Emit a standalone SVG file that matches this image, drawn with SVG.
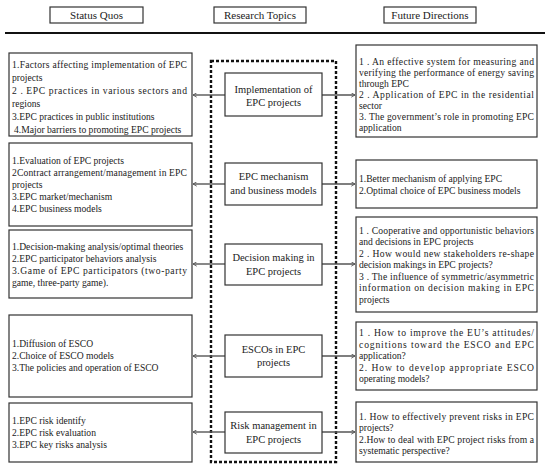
<svg xmlns="http://www.w3.org/2000/svg" width="550" height="473" viewBox="0 0 550 473">
<style>
.box{fill:#fff;stroke:#333;stroke-width:1.2}
.hd{font-family:"Liberation Serif","Times New Roman",serif;font-size:11px;fill:#222;text-anchor:middle}
.t{font-family:"Liberation Serif","Times New Roman",serif;font-size:9.6px;fill:#222}
.c{font-family:"Liberation Serif","Times New Roman",serif;font-size:10.5px;fill:#222;text-anchor:middle}
.con{stroke:#555;stroke-width:1.4;fill:none}
</style>
<defs>
<marker id="ah" viewBox="0 0 8 8" refX="7" refY="4" markerWidth="5" markerHeight="5" orient="auto-start-reverse" markerUnits="userSpaceOnUse">
<path d="M1,0.5 L7,4 L1,7.5" fill="none" stroke="#555" stroke-width="1.4"/>
</marker>
</defs>
<rect width="550" height="473" fill="#fff"/>
<g id="headers">
<rect class="box" x="50" y="7" width="93" height="16"/>
<text class="hd" x="96.5" y="19">Status Quos</text>
<rect class="box" x="214" y="7" width="92" height="16"/>
<text class="hd" x="260" y="19">Research Topics</text>
<rect class="box" x="384" y="7" width="92" height="16"/>
<text class="hd" x="430" y="19">Future Directions</text>
<line x1="5" y1="33" x2="545" y2="33" stroke="#111" stroke-width="1.8"/>
</g>
<rect id="topics-frame" x="211" y="61" width="125" height="401" fill="none" stroke="#111" stroke-width="2.4" stroke-dasharray="3,2"/>
<g id="connectors">
<line class="con" x1="225" y1="95" x2="193" y2="95" marker-end="url(#ah)"/>
<line class="con" x1="322" y1="95" x2="355" y2="95" marker-end="url(#ah)"/>
<line class="con" x1="225" y1="184" x2="193" y2="184" marker-end="url(#ah)"/>
<line class="con" x1="322" y1="184" x2="355" y2="184" marker-end="url(#ah)"/>
<line class="con" x1="225" y1="264" x2="193" y2="264" marker-end="url(#ah)"/>
<line class="con" x1="322" y1="264" x2="355" y2="264" marker-end="url(#ah)"/>
<line class="con" x1="225" y1="356" x2="193" y2="356" marker-end="url(#ah)"/>
<line class="con" x1="322" y1="356" x2="355" y2="356" marker-end="url(#ah)"/>
<line class="con" x1="225" y1="432" x2="193" y2="432" marker-end="url(#ah)"/>
<line class="con" x1="322" y1="432" x2="355" y2="432" marker-end="url(#ah)"/>
</g>
<g id="topic1"><rect class="box" x="225" y="73" width="97" height="43"/>
<text class="c" x="273.5" y="92.5">Implementation of</text><text class="c" x="273.5" y="105.5">EPC projects</text></g>
<g id="topic2"><rect class="box" x="225" y="163" width="97" height="42"/>
<text class="c" x="273.5" y="180">EPC mechanism</text><text class="c" x="273.5" y="194">and business models</text></g>
<g id="topic3"><rect class="box" x="225" y="244" width="97" height="41"/>
<text class="c" x="273.5" y="261">Decision making in</text><text class="c" x="273.5" y="275">EPC projects</text></g>
<g id="topic4"><rect class="box" x="225" y="335" width="97" height="42"/>
<text class="c" x="273.5" y="353">ESCOs in EPC</text><text class="c" x="273.5" y="366">projects</text></g>
<g id="topic5"><rect class="box" x="225" y="412" width="97" height="41"/>
<text class="c" x="273.5" y="429">Risk management in</text><text class="c" x="273.5" y="443">EPC projects</text></g>

<g id="status1"><rect class="box" x="9" y="53" width="183" height="83"/>
<text class="t" x="12" y="68" textLength="175" lengthAdjust="spacing">1.Factors affecting implementation of EPC</text>
<text class="t" x="12" y="81">projects</text>
<text class="t" x="12" y="94" textLength="175" lengthAdjust="spacing">2 . EPC practices in various sectors and</text>
<text class="t" x="12" y="107">regions</text>
<text class="t" x="12" y="120">3.EPC practices in public institutions</text>
<text class="t" x="14" y="133">4.Major barriers to promoting EPC projects</text></g>
<g id="status2"><rect class="box" x="9" y="143" width="183" height="83"/>
<text class="t" x="12" y="164">1.Evaluation of EPC projects</text>
<text class="t" x="12" y="176" textLength="175" lengthAdjust="spacing">2Contract arrangement/management in EPC</text>
<text class="t" x="12" y="188">projects</text>
<text class="t" x="12" y="200">3.EPC market/mechanism</text>
<text class="t" x="12" y="212">4.EPC business models</text></g>
<g id="status3"><rect class="box" x="9" y="230" width="183" height="68"/>
<text class="t" x="12" y="250">1.Decision-making analysis/optimal theories</text>
<text class="t" x="12" y="262">2.EPC participator behaviors analysis</text>
<text class="t" x="12" y="274" textLength="175" lengthAdjust="spacing">3.Game of EPC participators (two-party</text>
<text class="t" x="12" y="286">game, three-party game).</text></g>
<g id="status4"><rect class="box" x="9" y="315" width="183" height="82"/>
<text class="t" x="12" y="347">1.Diffusion of ESCO</text>
<text class="t" x="12" y="359">2.Choice of ESCO models</text>
<text class="t" x="12" y="371">3.The policies and operation of ESCO</text></g>
<g id="status5"><rect class="box" x="9" y="403" width="183" height="59"/>
<text class="t" x="12" y="424">1.EPC risk identify</text>
<text class="t" x="12" y="436">2.EPC risk evaluation</text>
<text class="t" x="12" y="448">3.EPC key risks  analysis</text></g>

<g id="future1"><rect class="box" x="356" y="45" width="181" height="92"/>
<text class="t" x="359" y="64.5" textLength="175" lengthAdjust="spacing">1 . An effective system for measuring and</text>
<text class="t" x="359" y="76" textLength="175" lengthAdjust="spacing">verifying the performance of energy saving</text>
<text class="t" x="359" y="87">through EPC</text>
<text class="t" x="359" y="98" textLength="175" lengthAdjust="spacing">2 . Application of EPC in the residential</text>
<text class="t" x="359" y="109">sector</text>
<text class="t" x="359" y="120" textLength="175" lengthAdjust="spacing">3. The government’s role in promoting EPC</text>
<text class="t" x="359" y="131">application</text></g>
<g id="future2"><rect class="box" x="356" y="160" width="181" height="48"/>
<text class="t" x="359" y="181.5">1.Better mechanism of applying EPC</text>
<text class="t" x="359" y="194">2.Optimal choice of EPC business models</text></g>
<g id="future3"><rect class="box" x="356" y="217" width="181" height="95"/>
<text class="t" x="359" y="233.5" textLength="175" lengthAdjust="spacing">1 . Cooperative and opportunistic behaviors</text>
<text class="t" x="359" y="245">and decisions in EPC projects</text>
<text class="t" x="359" y="256.5" textLength="175" lengthAdjust="spacing">2 . How would new stakeholders re-shape</text>
<text class="t" x="359" y="268">decision makings in EPC projects?</text>
<text class="t" x="359" y="279.5" textLength="175" lengthAdjust="spacing">3 . The influence of symmetric/asymmetric</text>
<text class="t" x="359" y="291" textLength="175" lengthAdjust="spacing">information on decision making in EPC</text>
<text class="t" x="359" y="303">projects</text></g>
<g id="future4"><rect class="box" x="356" y="322" width="181" height="68"/>
<text class="t" x="359" y="336" textLength="175" lengthAdjust="spacing">1 . How to improve the EU’s attitudes/</text>
<text class="t" x="359" y="347.5" textLength="175" lengthAdjust="spacing">cognitions toward the ESCO and EPC</text>
<text class="t" x="359" y="359">application?</text>
<text class="t" x="359" y="370.5" textLength="175" lengthAdjust="spacing">2. How to develop appropriate ESCO</text>
<text class="t" x="359" y="382">operating models?</text></g>
<g id="future5"><rect class="box" x="356" y="402" width="181" height="60"/>
<text class="t" x="359" y="419.5" textLength="175" lengthAdjust="spacing">1. How to effectively prevent risks in EPC</text>
<text class="t" x="359" y="431">projects?</text>
<text class="t" x="359" y="442.5" textLength="175" lengthAdjust="spacing">2.How to deal with EPC project risks from a</text>
<text class="t" x="359" y="453.5">systematic perspective?</text></g>
</svg>
